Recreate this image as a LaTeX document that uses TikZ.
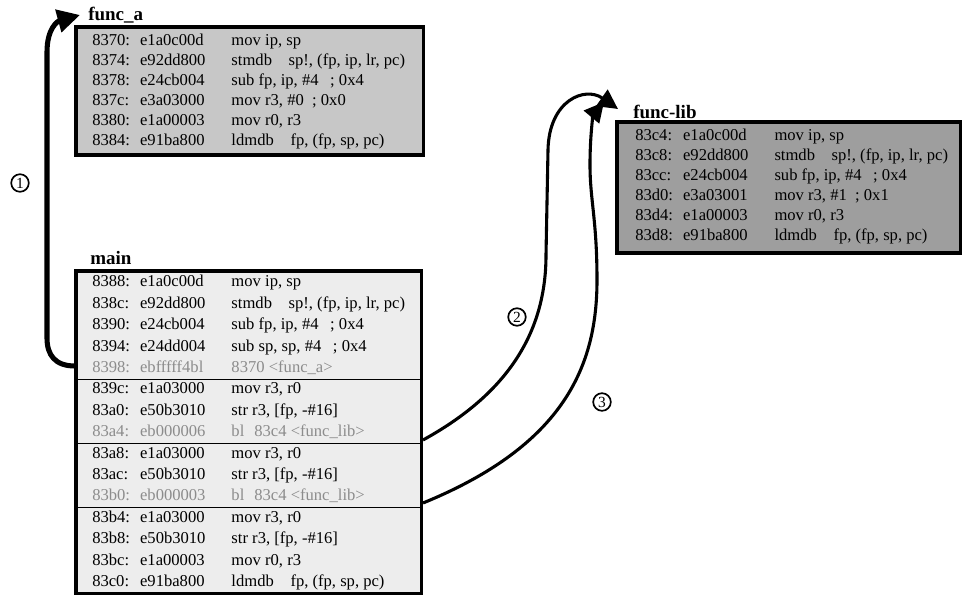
\documentclass[tikz,border=0pt]{standalone}
\usepackage{fontspec}
\setmainfont{Liberation Serif}
\usepackage{xcolor}
\usepackage{tikz}
\usetikzlibrary{arrows.meta,positioning}
\definecolor{fafill}{gray}{0.78}
\definecolor{mainfill}{gray}{0.93}
\definecolor{libfill}{gray}{0.62}
\definecolor{dimtxt}{gray}{0.55}
\newcommand{\asmrow}[3]{\makebox[34pt][l]{#1}\makebox[65pt][l]{#2}#3}
\tikzset{
  codebox/.style={draw, line width=2.2pt, inner sep=0pt},
  row/.style={anchor=west, inner sep=0pt, font=\fontsize{11.8}{13}\selectfont,
              text height=8pt, text depth=2.5pt},
  dimrow/.style={row, text=dimtxt},
  title/.style={anchor=base west, inner sep=0pt, font=\fontsize{13.5}{15}\selectfont\bfseries},
  sepline/.style={line width=0.9pt},
  num/.style={circle, draw, line width=1.2pt, inner sep=1.2pt, font=\fontsize{11}{12}\selectfont},
  calla/.style={line width=3.6pt, -{Triangle[length=16pt,width=16pt]}},
  callb/.style={line width=2.2pt, -{Triangle[length=14pt,width=14pt]}}
}
\begin{document}
\begin{tikzpicture}[x=0.025cm,y=-0.025cm]
  \useasboundingbox (0,0) rectangle (962,599);
  % boxes
  \node[codebox, fill=fafill, minimum width=8.675cm, minimum height=3.2cm] (funca) at (249.5,91) {};
  \node[codebox, fill=mainfill, minimum width=8.625cm, minimum height=8.05cm] (main) at (248.5,432) {};
  \node[codebox, fill=libfill, minimum width=8.575cm, minimum height=3.275cm] (funclib) at (788.5,187.5) {};
  \node[title] (fatitle) at (88,20) {func\_a};
  \node[title] (maintitle) at (90,264) {main};
  \node[title] (libtitle) at (633,118) {func-lib};
  % func_a
  \node[row] (fa1) at (92,42) {\asmrow{8370:}{e1a0c00d}{mov ip, sp}};
  \node[row] (fa2) at (92,62) {\asmrow{8374:}{e92dd800}{stmdb\hspace{1em}sp!, (fp, ip, lr, pc)}};
  \node[row] (fa3) at (92,82) {\asmrow{8378:}{e24cb004}{sub fp, ip, \#4\hspace{0.7em}; 0x4}};
  \node[row] (fa4) at (92,102) {\asmrow{837c:}{e3a03000}{mov r3, \#0\hspace{0.5em}; 0x0}};
  \node[row] (fa5) at (92,122) {\asmrow{8380:}{e1a00003}{mov r0, r3}};
  \node[row] (fa6) at (92,142) {\asmrow{8384:}{e91ba800}{ldmdb\hspace{1em}fp, (fp, sp, pc)}};
  % main
  \node[row] (m1) at (92,283) {\asmrow{8388:}{e1a0c00d}{mov ip, sp}};
  \node[row] (m2) at (92,304.4) {\asmrow{838c:}{e92dd800}{stmdb\hspace{1em}sp!, (fp, ip, lr, pc)}};
  \node[row] (m3) at (92,325.8) {\asmrow{8390:}{e24cb004}{sub fp, ip, \#4\hspace{0.7em}; 0x4}};
  \node[row] (m4) at (92,347.2) {\asmrow{8394:}{e24dd004}{sub sp, sp, \#4\hspace{0.7em}; 0x4}};
  \node[dimrow] (m5) at (92,368.6) {\asmrow{8398:}{ebfffff4bl}{8370 <func\_a>}};
  \node[row] (m6) at (92,390) {\asmrow{839c:}{e1a03000}{mov r3, r0}};
  \node[row] (m7) at (92,411.4) {\asmrow{83a0:}{e50b3010}{str r3, [fp, -\#16]}};
  \node[dimrow] (m8) at (92,432.8) {\asmrow{83a4:}{eb000006}{bl\hspace{0.6em}83c4 <func\_lib>}};
  \node[row] (m9) at (92,454.2) {\asmrow{83a8:}{e1a03000}{mov r3, r0}};
  \node[row] (m10) at (92,475.6) {\asmrow{83ac:}{e50b3010}{str r3, [fp, -\#16]}};
  \node[dimrow] (m11) at (92,497) {\asmrow{83b0:}{eb000003}{bl\hspace{0.6em}83c4 <func\_lib>}};
  \node[row] (m12) at (92,518.4) {\asmrow{83b4:}{e1a03000}{mov r3, r0}};
  \node[row] (m13) at (92,539.8) {\asmrow{83b8:}{e50b3010}{str r3, [fp, -\#16]}};
  \node[row] (m14) at (92,561.2) {\asmrow{83bc:}{e1a00003}{mov r0, r3}};
  \node[row] (m15) at (92,582.6) {\asmrow{83c0:}{e91ba800}{ldmdb\hspace{1em}fp, (fp, sp, pc)}};
  \draw[sepline] (76,379.3) -- (421,379.3);
  \draw[sepline] (76,443.5) -- (421,443.5);
  \draw[sepline] (76,507.7) -- (421,507.7);
  % func-lib
  \node[row] (fl1) at (635,137) {\asmrow{83c4:}{e1a0c00d}{mov ip, sp}};
  \node[row] (fl2) at (635,157) {\asmrow{83c8:}{e92dd800}{stmdb\hspace{1em}sp!, (fp, ip, lr, pc)}};
  \node[row] (fl3) at (635,177) {\asmrow{83cc:}{e24cb004}{sub fp, ip, \#4\hspace{0.7em}; 0x4}};
  \node[row] (fl4) at (635,197) {\asmrow{83d0:}{e3a03001}{mov r3, \#1\hspace{0.5em}; 0x1}};
  \node[row] (fl5) at (635,217) {\asmrow{83d4:}{e1a00003}{mov r0, r3}};
  \node[row] (fl6) at (635,237) {\asmrow{83d8:}{e91ba800}{ldmdb\hspace{1em}fp, (fp, sp, pc)}};
  % calls
  \coordinate (s1) at (75,366);
  \coordinate (t1) at (80,15);
  \coordinate (s2) at (423,440);
  \coordinate (t2) at (618,109);
  \coordinate (s3) at (423,503);
  \coordinate (t3) at (604,102);
  \draw[calla] (s1) .. controls (55,366) and (47,355) .. (47,338) -- (47,52)
    .. controls (47,28) and (58,21) .. (t1);
  \draw[callb] (s2) .. controls (505,395) and (546,335) .. (546,255) -- (548,150)
    .. controls (549,100) and (585,86) .. (t2);
  \draw[callb] (s3) .. controls (565,445) and (597,365) .. (597,280)
    .. controls (597,220) and (590,200) .. (590,165) .. controls (590,130) and (594,114) .. (t3);
  \node[num] (n1) at (20,183) {1};
  \node[num] (n2) at (517,317) {2};
  \node[num] (n3) at (602,402) {3};
\end{tikzpicture}
\end{document}
